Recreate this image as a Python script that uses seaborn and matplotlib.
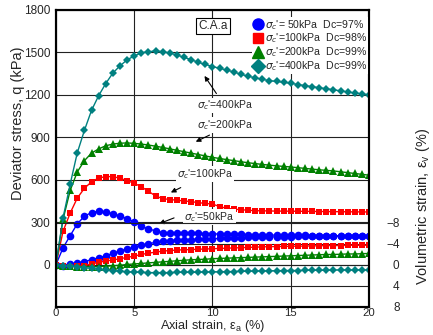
import numpy as np
import pandas as pd
import seaborn as sns
import matplotlib
matplotlib.use("Agg")
import matplotlib.pyplot as plt
from matplotlib.lines import Line2D

sns.set_style("white")
plt.rcParams['font.family'] = ['Liberation Sans', 'DejaVu Sans']

# axial strain (%) at each reading
strain = [0.0, 0.45, 0.91, 1.36, 1.82, 2.27, 2.73, 3.18, 3.64, 4.09, 4.55, 5.0, 5.45, 5.91, 6.36,
          6.82, 7.27, 7.73, 8.18, 8.64, 9.09, 9.55, 10.0, 10.45, 10.91, 11.36, 11.82, 12.27, 12.73,
          13.18, 13.64, 14.09, 14.55, 15.0, 15.45, 15.91, 16.36, 16.82, 17.27, 17.73, 18.18, 18.64,
          19.09, 19.55, 20.0]

# deviator stress q (kPa)
q_50 = [0, 118, 205, 288, 342, 368, 377, 373, 359, 342, 325, 300, 270, 252, 238,
        226, 224, 223, 222, 221, 220, 219, 217, 216, 215, 214, 213, 212, 211,
        210, 209, 208, 207, 207, 206, 206, 205, 205, 204, 204, 204, 203, 203, 203, 202]
q_100 = [0, 235, 365, 470, 540, 585, 612, 622, 622, 610, 593, 575, 550, 518, 485,
         466, 460, 455, 450, 445, 438, 432, 428, 410, 398, 392, 388, 384, 381,
         380, 379, 378, 378, 377, 377, 376, 376, 375, 375, 374, 374, 373, 373, 372, 372]
q_200 = [0, 320, 525, 655, 735, 788, 818, 840, 852, 858, 860, 857, 852, 845, 837,
         828, 818, 808, 798, 788, 778, 768, 758, 750, 742, 735, 727, 720, 714,
         708, 703, 698, 694, 690, 685, 680, 675, 670, 666, 662, 656, 650, 644, 638, 632]
q_400 = [0, 330, 570, 790, 950, 1090, 1195, 1280, 1355, 1405, 1448, 1475, 1497, 1505, 1510,
         1505, 1495, 1482, 1465, 1448, 1430, 1415, 1400, 1388, 1375, 1362, 1345, 1332, 1320,
         1310, 1300, 1295, 1288, 1282, 1273, 1265, 1258, 1250, 1243, 1236, 1228, 1220, 1213, 1206, 1200]

# volumetric strain (%)
ev_50 = [0, 0.1, -0.2, -0.4, -0.65, -1.0, -1.35, -1.75, -2.2, -2.7, -3.05, -3.4, -3.75, -4.05, -4.3,
         -4.55, -4.65, -4.75, -4.8, -4.85, -4.9, -4.95, -5.0, -5.05, -5.1, -5.15, -5.2, -5.25, -5.3,
         -5.3, -5.35, -5.35, -5.4, -5.4, -5.45, -5.45, -5.45, -5.5, -5.5, -5.5, -5.5, -5.55, -5.55, -5.55, -5.55]
ev_100 = [0, 0.2, 0.3, 0.25, 0.1, -0.2, -0.5, -0.75, -0.95, -1.2, -1.45, -1.7, -2.0, -2.25, -2.45,
          -2.65, -2.75, -2.85, -2.9, -2.95, -3.0, -3.05, -3.1, -3.15, -3.2, -3.25, -3.3, -3.35, -3.4,
          -3.45, -3.5, -3.5, -3.55, -3.55, -3.6, -3.6, -3.65, -3.65, -3.7, -3.7, -3.7, -3.75, -3.75, -3.75, -3.75]
ev_200 = [0, 0.1, 0.2, 0.3, 0.3, 0.3, 0.3, 0.25, 0.15, 0.05, -0.1, -0.2, -0.3, -0.4, -0.5,
          -0.6, -0.7, -0.8, -0.9, -1.0, -1.05, -1.1, -1.2, -1.25, -1.3, -1.35, -1.4, -1.45, -1.5,
          -1.55, -1.6, -1.65, -1.7, -1.75, -1.8, -1.85, -1.9, -1.95, -2.0, -2.0, -2.05, -2.1, -2.1, -2.15, -2.2]
ev_400 = [0, 0.1, 0.2, 0.35, 0.5, 0.65, 0.8, 0.95, 1.05, 1.2, 1.3, 1.35, 1.4, 1.45, 1.45,
          1.45, 1.45, 1.4, 1.4, 1.4, 1.35, 1.35, 1.3, 1.3, 1.25, 1.25, 1.2, 1.2, 1.15,
          1.15, 1.1, 1.1, 1.05, 1.05, 1.05, 1.0, 1.0, 1.0, 1.0, 0.95, 0.95, 0.95, 0.95, 0.95, 0.95]

series = ["50", "100", "200", "400"]
legend_labels = [r"$\sigma_{c}$'= 50kPa  Dc=97%", r"$\sigma_{c}$'=100kPa  Dc=98%",
                 r"$\sigma_{c}$'=200kPa  Dc=99%", r"$\sigma_{c}$'=400kPa  Dc=99%"]
colors = {"50": "#0000ff", "100": "#ff0000", "200": "#008000", "400": "#008080"}
markers = {"50": "o", "100": "s", "200": "^", "400": "D"}
msize = {"50": 5.5, "100": 5, "200": 5.5, "400": 4.5}

qs = {"50": q_50, "100": q_100, "200": q_200, "400": q_400}
evs = {"50": ev_50, "100": ev_100, "200": ev_200, "400": ev_400}

rows = []
for s in series:
    for i in range(len(strain)):
        rows.append({"strain": strain[i], "q": qs[s][i], "ev": evs[s][i], "sc": s})
df = pd.DataFrame(rows)

fig = plt.figure(figsize=(4.33, 3.35), dpi=100)
ax = fig.add_axes([0.1293, 0.0836, 0.7229, 0.8866])
ax2 = ax.twinx()

for s in series:
    d = df[df['sc'] == s]
    sns.lineplot(ax=ax, data=d, x="strain", y="q", color=colors[s], marker=markers[s],
                 markersize=msize[s], markeredgewidth=0, lw=1, legend=False)
    sns.lineplot(ax=ax2, data=d, x="strain", y="ev", color=colors[s], marker=markers[s],
                 markersize=msize[s], markeredgewidth=0, lw=1, legend=False)

ax.set_xlim(0, 20)
ax.set_ylim(-300, 1800)
ax.set_xticks([0, 5, 10, 15, 20])
ax.set_yticks([0, 300, 600, 900, 1200, 1500, 1800])
ax2.set_ylim(8, -48.57)
ax2.set_yticks([-8, -4, 0, 4, 8])

ax.grid(True, color="#222222", lw=0.8)
ax2.yaxis.grid(True, color="#222222", lw=0.8)
ax.set_axisbelow(True)

ax.tick_params(axis="y", labelsize=8.5, length=0, pad=4)
ax.tick_params(axis="x", labelsize=8.2, length=0, pad=1)
ax2.tick_params(labelsize=8.5, length=0, pad=22)
for t in ax2.get_yticklabels():
    t.set_ha("right")

for sp in ax.spines.values():
    sp.set_color("black")
    sp.set_linewidth(1.5)
for sp in ax2.spines.values():
    sp.set_color("black")
    sp.set_linewidth(1.5)

ax.set_xlabel(r"Axial strain, $\mathregular{\varepsilon_a}$ (%)", fontsize=9.2, labelpad=0)
ax.set_ylabel("Deviator stress, q (kPa)", fontsize=10.5)
ax.yaxis.set_label_coords(-0.1, 0.62)
ax2.set_ylabel(r"Volumetric strain, $\mathregular{\varepsilon_v}$ (%)", fontsize=10.5)
ax2.yaxis.set_label_coords(1.145, 0.34)

handles = [Line2D([], [], ls="none", marker=markers[s], color=colors[s], markersize=msize[s] + 2.5)
           for s in series]
leg = ax2.legend(handles, legend_labels, loc="upper right", bbox_to_anchor=(1.015, 0.995),
                 frameon=True, facecolor="white", edgecolor="none", framealpha=1, fancybox=False,
                 fontsize=7.6, handlelength=0.8, handletextpad=0.3,
                 labelspacing=0.0, borderpad=0.1)

ax2.text(10.06, -45.5, "C.A.a", fontsize=8.5, ha="center", va="center",
         bbox=dict(boxstyle="square,pad=0.2", fc="white", ec="black", lw=0.8))

# annotations on q axis
box = dict(boxstyle="square,pad=0.1", fc="white", ec="none")
arr = dict(arrowstyle="-|>", color="black", lw=0.8, mutation_scale=7)
ax.text(10.8, 1125, r"$\sigma_{c}$'=400kPa", fontsize=7.5, ha="center", va="center", bbox=box, zorder=5)
ax.text(10.8, 988, r"$\sigma_{c}$'=200kPa", fontsize=7.5, ha="center", va="center", bbox=box, zorder=5)
ax.text(9.5, 642, r"$\sigma_{c}$'=100kPa", fontsize=7.5, ha="center", va="center", bbox=box, zorder=5)
ax.text(9.8, 337, r"$\sigma_{c}$'=50kPa", fontsize=7.5, ha="center", va="center", bbox=box, zorder=5)
ax.annotate("", xy=(9.39, 1350), xytext=(10.35, 1193), arrowprops=arr)
ax.annotate("", xy=(8.77, 860), xytext=(9.97, 924), arrowprops=arr)
ax.annotate("", xy=(7.18, 501), xytext=(8.13, 553), arrowprops=arr)
ax.annotate("", xy=(6.43, 282), xytext=(7.71, 337), arrowprops=arr)

fig.savefig("out.png", dpi=100)
